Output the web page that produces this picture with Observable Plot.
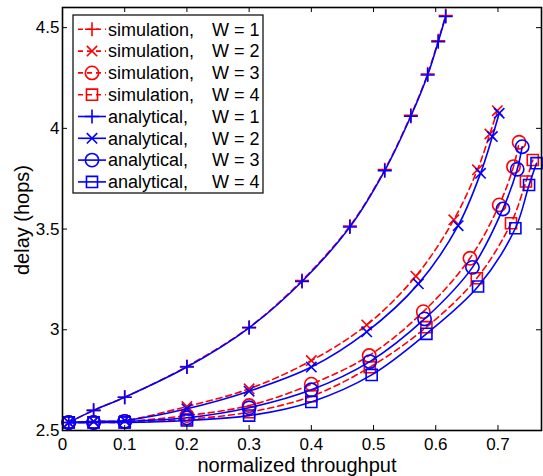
<!DOCTYPE html>
<html><head><meta charset="utf-8">
<script src="https://cdn.jsdelivr.net/npm/d3@7"></script>
<script src="https://cdn.jsdelivr.net/npm/@observablehq/plot@0.6"></script>
<style>body{margin:0;background:#fff} #chart{width:543px;height:476px}</style>
</head><body><div id="chart"></div>
<script>
// ---- data ----
const xTicks = [0, 0.1, 0.2, 0.3, 0.4, 0.5, 0.6, 0.7];
const yTicks = [2.5, 3, 3.5, 4, 4.5];

const simW1X = [0.01, 0.05, 0.1, 0.2, 0.3, 0.385, 0.462, 0.518, 0.56, 0.587, 0.604, 0.616];
const simW1Y = [2.54, 2.60, 2.665, 2.818, 3.012, 3.245, 3.515, 3.795, 4.065, 4.27, 4.435, 4.56];
const anaW1X = [0.01, 0.05, 0.1, 0.2, 0.3, 0.385, 0.462, 0.518, 0.56, 0.587, 0.604, 0.616];
const anaW1Y = [2.54, 2.60, 2.665, 2.815, 3.01, 3.24, 3.51, 3.79, 4.06, 4.265, 4.43, 4.555];

const simW2X = [0.01, 0.05, 0.1, 0.2, 0.3, 0.4, 0.489, 0.568, 0.629, 0.667, 0.687, 0.699];
const simW2Y = [2.54, 2.545, 2.55, 2.619, 2.707, 2.847, 3.024, 3.266, 3.546, 3.794, 3.972, 4.088];
const anaW2X = [0.01, 0.05, 0.1, 0.2, 0.3, 0.4, 0.489, 0.572, 0.636, 0.672, 0.691, 0.702];
const anaW2Y = [2.54, 2.545, 2.55, 2.608, 2.695, 2.815, 2.99, 3.228, 3.517, 3.777, 3.959, 4.075];

const simW3X = [0.01, 0.05, 0.1, 0.2, 0.3, 0.4, 0.493, 0.58, 0.655, 0.702, 0.725, 0.734];
const simW3Y = [2.54, 2.54, 2.545, 2.574, 2.624, 2.73, 2.872, 3.09, 3.355, 3.62, 3.81, 3.931];
const anaW3X = [0.01, 0.05, 0.1, 0.2, 0.3, 0.4, 0.494, 0.582, 0.659, 0.708, 0.731, 0.739];
const anaW3Y = [2.54, 2.54, 2.545, 2.563, 2.613, 2.702, 2.842, 3.054, 3.31, 3.60, 3.797, 3.909];

const simW4X = [0.01, 0.05, 0.1, 0.2, 0.3, 0.4, 0.494, 0.585, 0.666, 0.721, 0.745, 0.756];
const simW4Y = [2.54, 2.54, 2.54, 2.556, 2.591, 2.67, 2.814, 3.013, 3.256, 3.529, 3.736, 3.843];
const anaW4X = [0.01, 0.05, 0.1, 0.2, 0.3, 0.4, 0.497, 0.585, 0.668, 0.728, 0.75, 0.762];
const anaW4Y = [2.54, 2.54, 2.54, 2.55, 2.574, 2.642, 2.776, 2.98, 3.215, 3.504, 3.719, 3.827];

const legendLabels = ["simulation,", "simulation,", "simulation,", "simulation,",
                      "analytical,", "analytical,", "analytical,", "analytical,"];
const legendW = ["W = 1", "W = 2", "W = 3", "W = 4", "W = 1", "W = 2", "W = 3", "W = 4"];

// ---- symbols ----
const symPlus = {draw(c, s){const r=Math.sqrt(s/Math.PI); c.moveTo(-r,0); c.lineTo(r,0); c.moveTo(0,-r); c.lineTo(0,r);}};
const symTimes = {draw(c, s){const r=Math.sqrt(s/Math.PI)*0.74; c.moveTo(-r,-r); c.lineTo(r,r); c.moveTo(-r,r); c.lineTo(r,-r);}};
const symCircle = {draw(c, s){const r=Math.sqrt(s/Math.PI)*0.95; c.moveTo(r,0); c.arc(0,0,r,0,2*Math.PI); c.closePath();}};
const symSquare = {draw(c, s){const r=Math.sqrt(s/Math.PI)*0.79; c.rect(-r,-r,2*r,2*r);}};
const symbols = [symPlus, symTimes, symCircle, symSquare];

const RED = "#ff0000", BLUE = "#0000ff";
const zip = (xs, ys) => xs.map((x, i) => ({x, y: ys[i]}));
const sims = [zip(simW1X, simW1Y), zip(simW2X, simW2Y), zip(simW3X, simW3Y), zip(simW4X, simW4Y)];
const anas = [zip(anaW1X, anaW1Y), zip(anaW2X, anaW2Y), zip(anaW3X, anaW3Y), zip(anaW4X, anaW4Y)];

const marks = [];
sims.forEach((d, i) => {
  marks.push(Plot.line(d, {x: "x", y: "y", stroke: RED, strokeWidth: 1.6, strokeDasharray: "6,4", curve: "catmull-rom"}));
  marks.push(Plot.dot(d, {x: "x", y: "y", r: 7, symbol: symbols[i], stroke: RED, fill: "none", strokeWidth: 1.6}));
});
anas.forEach((d, i) => {
  marks.push(Plot.line(d, {x: "x", y: "y", stroke: BLUE, strokeWidth: 1.6, curve: "catmull-rom"}));
  marks.push(Plot.dot(d, {x: "x", y: "y", r: 7, symbol: symbols[i], stroke: BLUE, fill: "none", strokeWidth: 1.6}));
});

const W = 543, H = 476, mL = 62, mR = 2, mT = 7, mB = 46;
const pw = W - mL - mR, ph = H - mT - mB;

const chart = Plot.plot({
  width: W, height: H,
  marginLeft: mL, marginRight: mR, marginTop: mT, marginBottom: mB,
  x: {domain: [0, 0.77]},
  y: {domain: [2.5, 4.6]},
  style: {fontFamily: "'Liberation Sans', Arial, Helvetica, sans-serif", fontSize: "17px", color: "black", background: "white"},
  marks: [
    ...marks,
    Plot.tickX(xTicks, {x: d => d, stroke: "black", strokeWidth: 1, insetTop: ph - 5}),
    Plot.tickX(xTicks, {x: d => d, stroke: "black", strokeWidth: 1, insetBottom: ph - 5}),
    Plot.tickY(yTicks, {y: d => d, stroke: "black", strokeWidth: 1, insetRight: pw - 5}),
    Plot.tickY(yTicks, {y: d => d, stroke: "black", strokeWidth: 1, insetLeft: pw - 5}),
    Plot.frame({stroke: "black", strokeWidth: 1.6}),
    Plot.axisX(xTicks, {tickSize: 0, tickPadding: 7, tickFormat: d => String(d), fontSize: 17, label: null}),
    Plot.axisY(yTicks, {tickSize: 0, tickPadding: 3, tickFormat: d => String(d), fontSize: 17, label: null})
  ]
});

const svg = d3.select(chart);
svg.append("text").attr("x", 297).attr("y", 465).attr("text-anchor", "middle").attr("dy", "0.35em")
  .attr("font-size", 20).attr("fill", "black").text("normalized throughput");
svg.append("text").attr("transform", "translate(22,220) rotate(-90)").attr("text-anchor", "middle").attr("dy", "0.35em")
  .attr("font-size", 20).attr("fill", "black").text("delay (hops)");

// legend
const lg = svg.append("g").attr("text-anchor", "start");
lg.append("rect").attr("x", 73).attr("y", 15).attr("width", 190).attr("height", 178)
  .attr("fill", "white").attr("stroke", "black").attr("stroke-width", 1.2);
legendLabels.forEach((lab, i) => {
  const y = 29.3 + i * 21.8;
  const sim = i < 4;
  const col = sim ? RED : BLUE;
  lg.append("line").attr("x1", 78).attr("x2", 106).attr("y1", y).attr("y2", y)
    .attr("stroke", col).attr("stroke-width", 1.6).attr("stroke-dasharray", sim ? "5,4" : null);
  lg.append("path").attr("transform", `translate(92,${y})`)
    .attr("d", d3.symbol(symbols[i % 4], Math.PI * 49)())
    .attr("fill", "none").attr("stroke", col).attr("stroke-width", 1.6);
  lg.append("text").attr("x", 108).attr("y", y).attr("dy", "0.35em").attr("text-anchor", "start")
    .attr("font-size", 18).attr("fill", "black").text(lab);
  lg.append("text").attr("x", 212).attr("y", y).attr("dy", "0.35em").attr("text-anchor", "start")
    .attr("font-size", 18).attr("fill", "black").text(legendW[i]);
});

document.getElementById("chart").appendChild(chart);
</script>
</body></html>
